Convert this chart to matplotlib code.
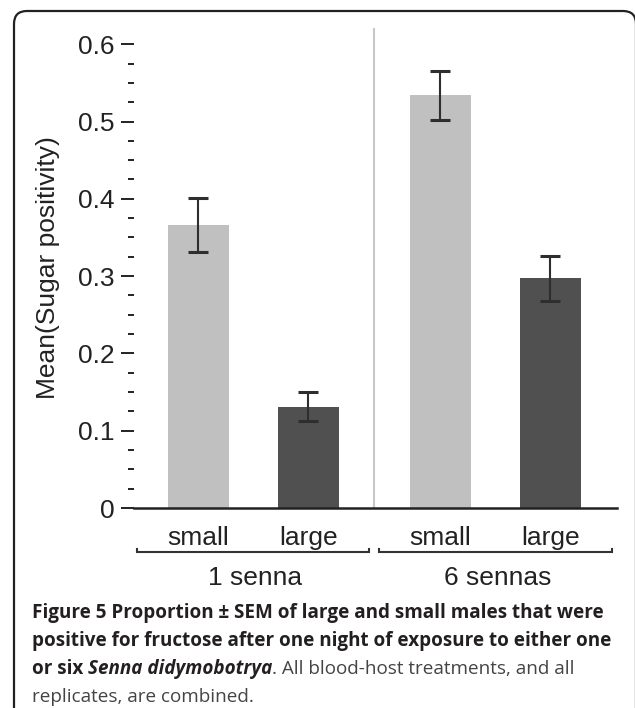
import matplotlib.pyplot as plt
from matplotlib.patches import FancyBboxPatch

# bar data: mean proportion positive for fructose, +/- SEM
sizes = ["small", "large", "small", "large"]
groups = ["1 senna", "6 sennas"]
means = [0.366, 0.131, 0.534, 0.297]
sems = [0.035, 0.019, 0.032, 0.029]
xpos = [0, 1, 2.2, 3.2]
bar_colors = ["#c0c0c0", "#505050", "#c0c0c0", "#505050"]

W, H = 635, 708
fig = plt.figure(figsize=(W / 100, H / 100), dpi=100)

def px(x0, y0, x1, y1):
    # pixel box (top-left origin) -> figure fraction rect
    return [x0 / W, 1 - y1 / H, (x1 - x0) / W, (y1 - y0) / H]

ax = fig.add_axes(px(134, 28, 617, 508))
ax.bar(xpos, means, width=0.55, color=bar_colors, edgecolor="none", zorder=2)
ax.errorbar(xpos, means, yerr=sems, fmt="none", ecolor="#2e2e2e",
            elinewidth=1.5, capsize=7.5, capthick=2.2, zorder=3)

ax.set_xlim(-0.586, 3.805)
ax.set_ylim(0, 0.621)
ax.axvline(1.6, color="#c8c8c8", lw=1.5, zorder=1)

for s in ["left", "top", "right"]:
    ax.spines[s].set_visible(False)
ax.spines["bottom"].set_linewidth(1.8)
ax.spines["bottom"].set_color("#222222")

ax.set_yticks([0, 0.1, 0.2, 0.3, 0.4, 0.5, 0.6])
ax.set_yticklabels(["0", "0.1", "0.2", "0.3", "0.4", "0.5", "0.6"],
                   fontsize=19, family="Liberation Sans", color="#222222")
ax.set_yticks([i * 0.025 for i in range(25) if i % 4], minor=True)
ax.tick_params(axis="y", which="major", length=9.4, width=1.4, pad=4.3, color="#222222")
ax.tick_params(axis="y", which="minor", length=4.5, width=1.4, color="#222222")
ax.set_xticks([])
ax.set_ylabel("Mean(Sugar positivity)", fontsize=19, family="Liberation Sans",
              color="#222222", labelpad=13)

# size labels under each bar
for x, lab in zip(xpos, sizes):
    ax.text(x, -0.048, lab, ha="center", va="baseline", fontsize=19,
            family="Liberation Sans", color="#222222", clip_on=False)

# brackets grouping the bars, and the group names
brackets = [(-0.559, 1.55), (1.64, 3.759)]
ybr, ytip = -0.0569, -0.0535
for (a, b), g in zip(brackets, groups):
    ax.plot([a, a, b, b], [ytip, ybr, ybr, ytip], color="#333333", lw=1.5,
            clip_on=False, solid_joinstyle="miter")
    ax.text((a + b) / 2 + 0.02, -0.0996, g, ha="center", va="baseline",
            fontsize=19, family="Liberation Sans", color="#222222", clip_on=False)

# frame around the figure panel (right and bottom run off the edge)
frame = FancyBboxPatch((14 / 100, -0.3), (636 - 14) / 100, (H - 11) / 100 + 0.3,
                       boxstyle="round,pad=0,rounding_size=0.13",
                       transform=fig.dpi_scale_trans, fill=False,
                       edgecolor="#222222", lw=1.6)
fig.patches.append(frame)

# caption, written piece by piece so bold/italic runs line up
cap_font = "Open Sans"
cap_size = 13.6
lines = [
    [("Figure 5 Proportion \u00b1 SEM of large and small males that were", "bold", "normal", "#231f20")],
    [("positive for fructose after one night of exposure to either one", "bold", "normal", "#231f20")],
    [("or six ", "bold", "normal", "#231f20"),
     ("Senna didymobotrya", "bold", "italic", "#231f20"),
     (". All blood-host treatments, and all", "normal", "normal", "#444444")],
    [("replicates, are combined.", "normal", "normal", "#444444")],
]
baselines = [618, 646, 674, 702]

fig.canvas.draw()
renderer = fig.canvas.get_renderer()
for pieces, yb in zip(lines, baselines):
    x = 32
    for txt, weight, style, col in pieces:
        t = fig.text(x / W, 1 - yb / H, txt, fontsize=cap_size, family=cap_font,
                     weight=weight, style=style, color=col, va="baseline", ha="left")
        x += t.get_window_extent(renderer).width

fig.savefig("out.png", dpi=100)
